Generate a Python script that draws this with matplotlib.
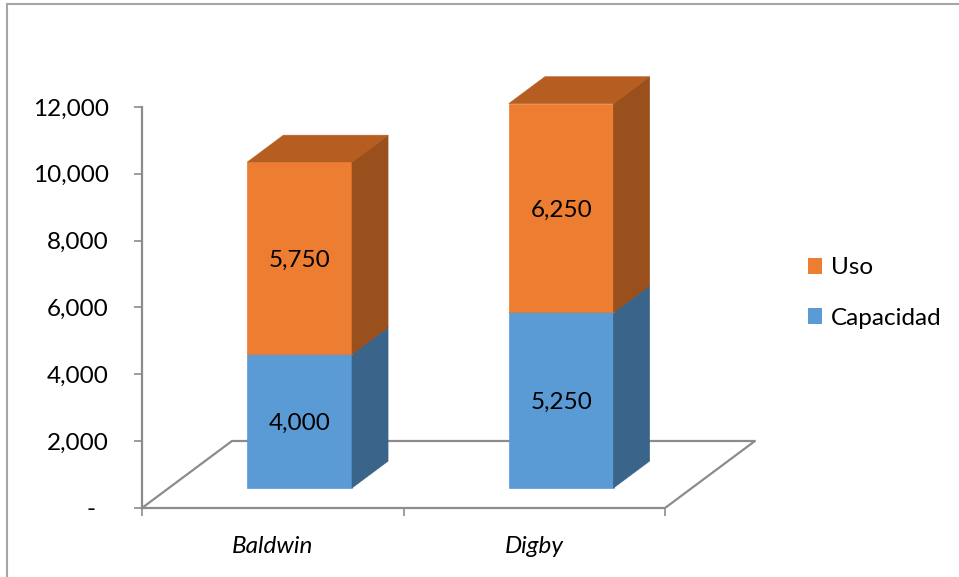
import matplotlib.pyplot as plt
from matplotlib.patches import Polygon, Rectangle, Patch
import numpy as np

plt.rcParams['font.family'] = ['Lato', 'DejaVu Sans']

# data
teams = ['Baldwin', 'Digby']
capacidad = [4000, 5250]
uso = [5750, 6250]
yticks = [0, 2000, 4000, 6000, 8000, 10000, 12000]

# colours: front, right side, top
blue = ('#5B9BD5', '#3A6489', '#41719C')
orange = ('#ED7D31', '#9A501D', '#B65E22')
grid_col = '#8C8C8C'
FS = 17.5

# fake 3d depth offsets (data units)
DX, DZ = 0.344, 2005
d0, d1 = 0.3, 0.7      # bar depth range
w0, w1 = 0.3, 0.7      # bar width range inside a category


def proj(x, z, d):
    return (x + d * DX, z + d * DZ)


def box(ax, x0, x1, z0, z1, cols):
    front = [proj(x0, z0, d0), proj(x1, z0, d0), proj(x1, z1, d0), proj(x0, z1, d0)]
    side = [proj(x1, z0, d0), proj(x1, z0, d1), proj(x1, z1, d1), proj(x1, z1, d0)]
    top = [proj(x0, z1, d0), proj(x1, z1, d0), proj(x1, z1, d1), proj(x0, z1, d1)]
    for pts, c in zip((front, side, top), cols):
        ax.add_patch(Polygon(pts, closed=True, facecolor=c, edgecolor=c, lw=0.5, zorder=3))


fig = plt.figure(figsize=(9.59, 5.77), dpi=100)
W, H = 959, 577
ax = fig.add_axes([142 / W, (H - 508) / H, (760 - 142) / W, (508 - 60) / H])
ax.set_xlim(0, (760 - 142) / 261.5)
ax.set_ylim(0, (508 - 60) / 33.42 * 1000)

# floor
floor = [proj(0, 0, 0), proj(2, 0, 0), proj(2, 0, 1), proj(0, 0, 1), proj(0, 0, 0)]
fx, fy = zip(*floor)
ax.plot(fx, fy, color=grid_col, lw=1.6, zorder=1, clip_on=False)

for i in range(len(teams)):
    x0, x1 = i + w0, i + w1
    box(ax, x0, x1, 0, capacidad[i], blue)
    box(ax, x0, x1, capacidad[i], capacidad[i] + uso[i], orange)
    cx = (x0 + x1) / 2 + d0 * DX
    ax.text(cx, capacidad[i] / 2 + d0 * DZ, f'{capacidad[i]:,}', ha='center',
            va='center_baseline', fontsize=FS, color='black', zorder=5)
    ax.text(cx, capacidad[i] + uso[i] / 2 + d0 * DZ, f'{uso[i]:,}', ha='center',
            va='center_baseline', fontsize=FS, color='black', zorder=5)
    ax.text(i + 0.5, -1100, teams[i], ha='center', va='center_baseline', fontsize=FS,
            style='italic', clip_on=False)

# axes styling
for s in ['top', 'right', 'bottom']:
    ax.spines[s].set_visible(False)
ax.spines['left'].set_color(grid_col)
ax.spines['left'].set_linewidth(1.6)
ax.spines['left'].set_bounds(0, 12000)
ax.set_yticks(yticks)
ax.set_yticklabels(['-  '] + [f'{v:,}' for v in yticks[1:]], fontsize=FS)
ax.tick_params(axis='y', length=6, width=1.2, color=grid_col, pad=18)
ax.set_xticks([0, 1, 2])
ax.set_xticklabels([])
ax.tick_params(axis='x', length=6, width=1.2, color=grid_col, direction='out')

handles = [Patch(facecolor=orange[0], label='Uso'), Patch(facecolor=blue[0], label='Capacidad')]
fig.legend(handles=handles, loc='center left', bbox_to_anchor=(786 / W, 1 - 293 / H),
           frameon=False, fontsize=FS, handlelength=0.6, handleheight=0.6,
           handletextpad=0.35, labelspacing=1.2)

# outer frame
fig.add_artist(Rectangle((7 / W, -0.1), 1.2, 1 - 4 / H + 0.1, transform=fig.transFigure,
                         fill=False, edgecolor='#A6A6A6', lw=1.5))

fig.savefig('out.png', dpi=100)
